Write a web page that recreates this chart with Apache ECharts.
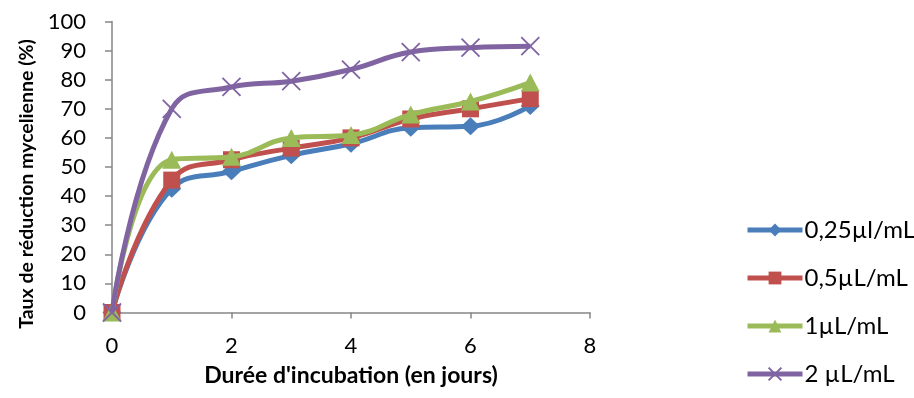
<!DOCTYPE html>
<html>
<head>
<meta charset="utf-8">
<script src="https://cdn.jsdelivr.net/npm/echarts@6/dist/echarts.min.js"></script>
<style>html,body{margin:0;padding:0;background:#fff}#c{width:914px;height:398px}</style>
</head>
<body>
<div id="c"></div>
<script>
var days = [0, 1, 2, 3, 4, 5, 6, 7];
var seriesNames = ['0,25µl/mL', '0,5µL/mL', '1µL/mL', '2 µL/mL'];
var s025 = [0, 42.5, 48.5, 54, 58, 63.5, 64, 71];
var s05 = [0, 45.5, 52.5, 56.5, 60, 66.5, 70, 73.5];
var s1 = [0, 52.5, 53.5, 60, 61, 68, 72.5, 79];
var s2 = [0, 70, 77.5, 79.5, 83.5, 89.5, 91, 91.5];
var xTicks = [0, 2, 4, 6, 8];
var yTicks = [0, 10, 20, 30, 40, 50, 60, 70, 80, 90, 100];

var colors = ['#4A7EBB', '#C0504D', '#9BBB59', '#8064A2'];
var values = [s025, s05, s1, s2];
var symbols = ['diamond', 'rect', 'triangle', 'path://M0,0L10,10M10,0L0,10'];
var sizes = [[19, 18], 17, [19, 18], 18];
var font = 'Lato, "Open Sans", sans-serif';

function pairs(v) { return days.map(function (d, i) { return [d, v[i]]; }); }

var series = values.map(function (v, i) {
  var isCross = i === 3;
  return {
    name: seriesNames[i],
    type: 'line',
    data: pairs(v),
    smooth: 0.45,
    symbol: symbols[i],
    symbolSize: sizes[i],
    showAllSymbol: true,
    lineStyle: { color: colors[i], width: 5 },
    itemStyle: isCross ? { color: 'rgba(0,0,0,0)', borderColor: colors[i], borderWidth: 1.8 } : { color: colors[i], borderWidth: 0 },
    emphasis: { disabled: true },
    z: 2 + i
  };
});

var chart = echarts.init(document.getElementById('c'), null, { renderer: 'canvas' });
chart.setOption({
  animation: false,
  backgroundColor: '#fff',
  grid: { left: 112, right: 324, top: 21.5, bottom: 85.5, containLabel: false },
  xAxis: {
    type: 'value', min: xTicks[0], max: xTicks[xTicks.length - 1], interval: 2,
    name: "Durée d'incubation (en jours)", nameLocation: 'middle', nameGap: 52,
    nameTextStyle: { fontFamily: font, fontWeight: 'bold', fontSize: 23, color: '#000' },
    axisLine: { show: true, lineStyle: { color: '#868686', width: 1.5 } },
    axisTick: { show: true, length: 6, lineStyle: { color: '#868686', width: 1.5 } },
    axisLabel: { fontFamily: font, fontSize: 22, color: '#000', margin: 22 },
    splitLine: { show: false }
  },
  yAxis: {
    type: 'value', min: yTicks[0], max: yTicks[yTicks.length - 1], interval: 10,
    name: 'Taux de réduction mycelienne (%)', nameLocation: 'middle', nameGap: 73,
    nameTextStyle: { fontFamily: font, fontWeight: 'bold', fontSize: 19.5, color: '#000', padding: [0, 34, 0, 0] },
    axisLine: { show: true, lineStyle: { color: '#868686', width: 1.5 } },
    axisTick: { show: true, length: 7, lineStyle: { color: '#868686', width: 1.5 } },
    axisLabel: { fontFamily: font, fontSize: 22, color: '#000', margin: 26 },
    splitLine: { show: false }
  },
  legend: {
    orient: 'vertical', left: 740, top: 213,
    itemWidth: 55, itemHeight: 16, itemGap: 24,
    lineStyle: { width: 5 },
    textStyle: { fontFamily: font, fontSize: 24, color: '#000', padding: [0, 0, 0, -3] },
    data: seriesNames
  },
  series: series
});
</script>
</body>
</html>
